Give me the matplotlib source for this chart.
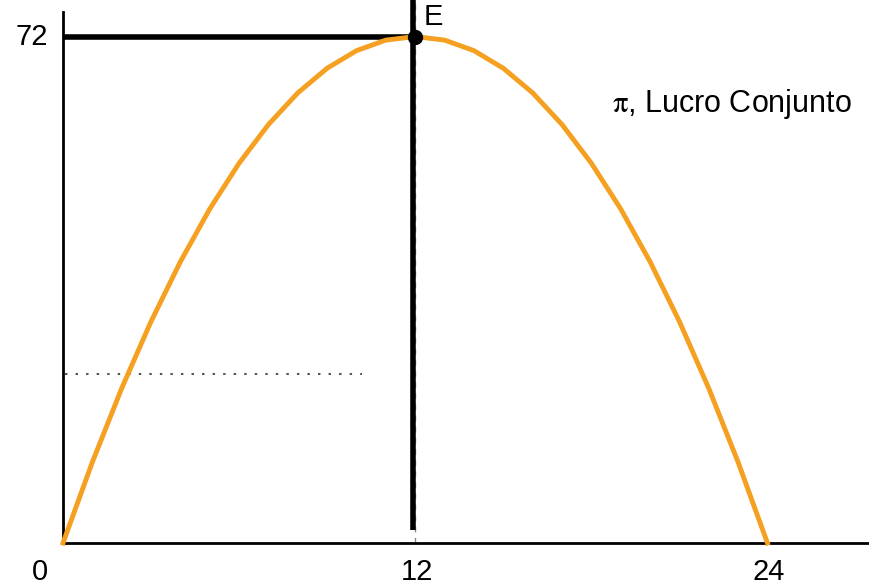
import matplotlib
matplotlib.use("Agg")
import matplotlib.pyplot as plt

# ── Data ──────────────────────────────────────────────────────────────────────
quantidade = [0, 1, 2, 3, 4, 5, 6, 7, 8, 9, 10, 11, 12,
              13, 14, 15, 16, 17, 18, 19, 20, 21, 22, 23, 24]
lucro = [0, 11.5, 22, 31.5, 40, 47.5, 54, 59.5, 64, 67.5, 70, 71.5, 72,
         71.5, 70, 67.5, 64, 59.5, 54, 47.5, 40, 31.5, 22, 11.5, 0]
q_eq, pi_eq = 12, 72
nivel_pontilhado = 24
x_labels = [0, 12, 24]

ORANGE = "#F5A020"
FS = 21

plt.rcParams["font.family"] = ["Liberation Sans", "DejaVu Sans"]
plt.rcParams["mathtext.fontset"] = "stix"

fig = plt.figure(figsize=(8.69, 5.88), dpi=100)
ax = fig.add_axes([0.0725, 0.0765, 0.9275, 0.9235])
ax.set_xlim(0, 27.46)
ax.set_ylim(0, 77.2)

for s in ["top", "right"]:
    ax.spines[s].set_visible(False)
ax.spines["left"].set_bounds(0, 75.5)
ax.spines["left"].set_linewidth(2)
ax.spines["bottom"].set_linewidth(2)
ax.set_xticks([])
ax.set_yticks([])

# guide lines
ax.axvline(q_eq, color="#888888", lw=1, ls=(0, (4, 4)), zorder=1)
ax.plot([q_eq - 0.08, q_eq - 0.08], [1.85, 77.2], color="black", lw=4, zorder=2,
        solid_capstyle="butt")
ax.plot([0, q_eq], [pi_eq, pi_eq], color="black", lw=4, zorder=2,
        solid_capstyle="butt")
ax.plot([0.07, 10.2], [nivel_pontilhado, nivel_pontilhado], color="#222222",
        lw=1.1, ls=(0, (1.6, 5.3)), zorder=1)

# profit curve
ax.plot(quantidade, lucro, color=ORANGE, lw=3.5, zorder=3, clip_on=False)
ax.plot([q_eq], [pi_eq], "o", color="black", ms=10, zorder=4)
ax.text(q_eq + 0.3, 74.8, "E", fontsize=FS, ha="left", va="center")

ax.text(18.7, 62.4, r"$\mathrm{\pi}$, Lucro Conjunto", fontsize=FS + 1,
        ha="left", va="center")

# axis labels
ax.text(-0.5, pi_eq, "72", fontsize=FS, ha="right", va="center", clip_on=False)
for v in x_labels:
    xpos = -0.78 if v == 0 else v + 0.05
    ax.text(xpos, -4.1, str(v), fontsize=FS, ha="center", va="center", clip_on=False)

fig.savefig("out.png", dpi=100, facecolor="white")
